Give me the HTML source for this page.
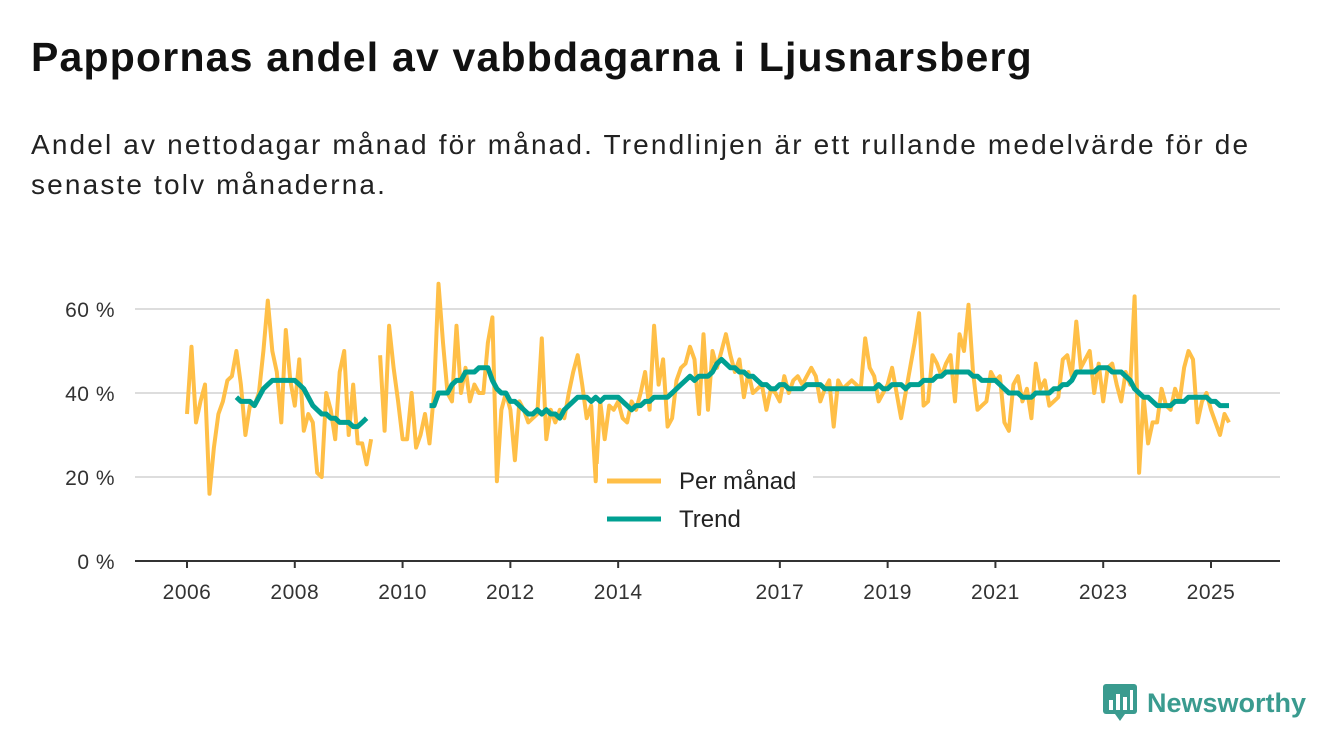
<!DOCTYPE html>
<html><head><meta charset="utf-8"><style>
body{margin:0;background:#fff;font-family:"Liberation Sans",sans-serif;}
#wrap{position:relative;width:1340px;height:753px;overflow:hidden}
h1{position:absolute;left:31px;top:34px;margin:0;font-size:41px;font-weight:bold;color:#111;letter-spacing:1.2px}
.sub{position:absolute;left:31px;top:125px;margin:0;font-size:28px;letter-spacing:2.15px;line-height:40px;color:#222;width:1270px}
</style></head><body>
<div id="wrap">
<h1>Pappornas andel av vabbdagarna i Ljusnarsberg</h1>
<p class="sub">Andel av nettodagar månad för månad. Trendlinjen är ett rullande medelvärde för de senaste tolv månaderna.</p>
<svg id="chart" width="1340" height="753" style="position:absolute;left:0;top:0"></svg>
<div style="position:absolute;left:1103px;top:684px;display:flex;align-items:center">
<svg width="34" height="38"><rect x="0" y="0" width="34" height="30" rx="3" fill="#3a9b8f"/><polygon points="12,30 22,30 17,37" fill="#3a9b8f"/><rect x="6" y="16" width="4" height="10" fill="#fff"/><rect x="13" y="10" width="4" height="16" fill="#fff"/><rect x="20" y="13" width="4" height="13" fill="#fff"/><rect x="27" y="6" width="3" height="20" fill="#fff"/></svg>
<span style="font-size:27px;font-weight:bold;color:#3a9b8f;margin-left:10px">Newsworthy</span></div>
</div>
<script>
const n=null;
const monthly=[
35,51,33,38,42,16,27,35,38,43,44,50,
42,30,37,37,40,50,62,50,45,33,55,43,
37,48,31,35,33,21,20,40,36,29,45,50,
30,42,28,28,23,29,n,49,31,56,46,38,
29,29,40,27,30,35,28,40,66,52,40,38,
56,40,46,38,42,40,40,52,58,19,36,40,
36,24,38,36,33,34,35,53,29,36,33,36,
34,40,45,49,42,34,37,19,38,29,37,36,
38,34,33,38,36,40,45,36,56,42,48,32,
34,43,46,47,51,48,35,54,36,50,46,50,
54,49,45,48,39,45,40,41,42,36,41,40,
38,44,40,43,44,42,44,46,44,38,41,43,
32,43,41,42,43,42,41,53,46,44,38,40,
42,46,40,34,40,46,52,59,37,38,49,47,
44,47,49,38,54,50,61,45,36,37,38,45,
43,44,33,31,42,44,38,41,34,47,41,43,
37,38,39,48,49,44,57,46,48,50,40,47,
38,46,47,42,38,45,42,63,21,39,28,33,
33,41,37,36,41,38,46,50,48,33,38,40,
36,33,30,35,33];
const trend=[
n,n,n,n,n,n,n,n,n,n,n,39,
38,38,38,37,39,41,42,43,43,43,43,43,
43,42,41,39,37,36,35,35,34,34,33,33,
33,32,32,33,34,n,n,n,n,n,n,n,
n,n,n,n,n,n,37,37,40,40,40,42,
43,43,45,45,45,46,46,46,43,41,40,40,
38,38,37,36,35,35,36,35,36,35,35,34,
36,37,38,39,39,39,38,39,38,39,39,39,
39,38,37,36,37,37,38,38,39,39,39,39,
40,41,42,43,44,43,44,44,44,45,47,48,
47,46,46,45,45,44,44,43,42,42,41,41,
42,42,41,41,41,41,42,42,42,42,41,41,
41,41,41,41,41,41,41,41,41,41,42,41,
41,42,42,42,41,42,42,42,43,43,43,44,
44,45,45,45,45,45,45,44,44,43,43,43,
43,42,41,40,40,40,39,39,39,40,40,40,
40,41,41,42,42,43,45,45,45,45,45,46,
46,46,45,45,45,44,43,41,40,39,39,38,
37,37,37,37,38,38,38,39,39,39,39,39,
38,38,37,37,37];
const yTicks=[0,20,40,60];
const xYears=[2006,2008,2010,2012,2014,2017,2019,2021,2023,2025];
const NS="http://www.w3.org/2000/svg";
const svg=document.getElementById('chart');
const x=i=>187+i*(1024/228);
const xy=yr=>x((yr-2006)*12);
const y=v=>561-v*4.2;
function mk(t,a){const e=document.createElementNS(NS,t);for(const k in a)e.setAttribute(k,a[k]);svg.appendChild(e);return e;}
yTicks.forEach(t=>{
 if(t>0){const g=mk('line',{x1:135,x2:1280,y1:y(t),y2:y(t),stroke:'#ddd','stroke-width':2});
 
 }
 const l=mk('text',{x:115,y:y(t)+8,'text-anchor':'end','font-size':21,'letter-spacing':0.5,fill:'#333','font-family':'Liberation Sans, sans-serif'});
 l.textContent=t+' %';
 
 
});
const ax=mk('line',{x1:135,x2:1280,y1:561,y2:561,stroke:'#333','stroke-width':2});


xYears.forEach(yr=>{
 const tk=mk('line',{x1:xy(yr),x2:xy(yr),y1:561,y2:568,stroke:'#333','stroke-width':2});
 
 
 const l=mk('text',{x:xy(yr),y:599,'text-anchor':'middle','font-size':21,'letter-spacing':0.5,fill:'#333','font-family':'Liberation Sans, sans-serif'});
 l.textContent=yr;
 
 
});
function path(arr){let d='',pen=false;arr.forEach((v,i)=>{if(v==null){pen=false;return;}d+=(pen?'L':'M')+x(i).toFixed(1)+','+y(v).toFixed(1);pen=true;});return d;}
const m=mk('path',{d:path(monthly),fill:'none',stroke:'#ffbf47','stroke-width':4,'stroke-linejoin':'round'});


const tr=mk('path',{d:path(trend),fill:'none',stroke:'#00a092','stroke-width':5,'stroke-linejoin':'round'});


[['Per månad','#ffbf47',481],['Trend','#00a092',519]].forEach(([t,c,yy])=>{
 const bg=mk('rect',{x:598,y:yy-17,width:215,height:34,fill:'#fff'});
 
 
 const l=mk('line',{x1:607,x2:661,y1:yy,y2:yy,stroke:c,'stroke-width':5});
 
 
 const tx=mk('text',{x:679,y:yy+8,'font-size':24,fill:'#222','font-family':'Liberation Sans, sans-serif'});
 tx.textContent=t;
 
 
});
</script>
</body></html>
